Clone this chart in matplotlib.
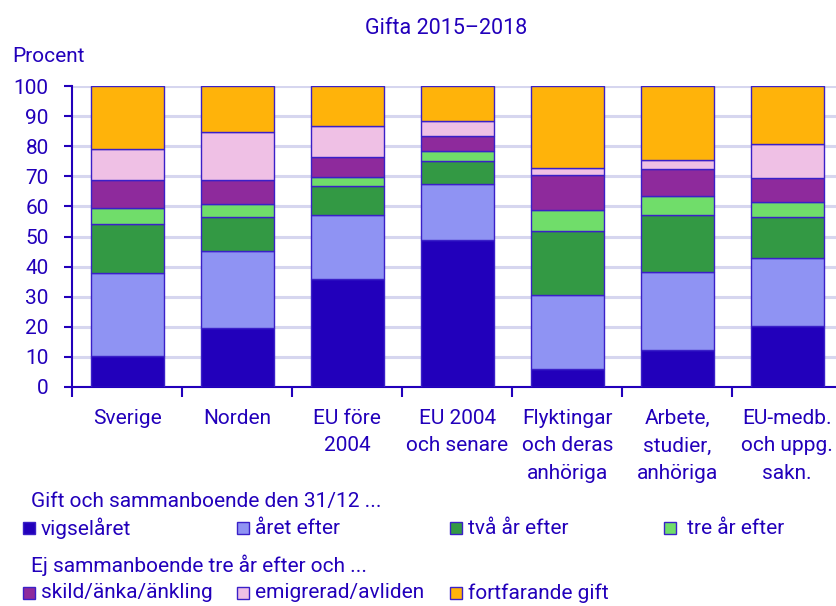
import matplotlib
matplotlib.use("Agg")
import matplotlib.pyplot as plt
from matplotlib.patches import Rectangle
import numpy as np

# ==================== data ====================
categories = ["Sverige", "Norden", "EU före\n2004", "EU 2004\noch senare",
              "Flyktingar\noch deras\nanhöriga", "Arbete,\nstudier,\nanhöriga",
              "EU-medb.\noch uppg.\nsakn."]
vigselaret   = [10.2, 19.7, 35.8, 48.7,  5.9, 12.4, 20.2]
aret_efter   = [27.8, 25.6, 21.2, 18.9, 24.6, 25.8, 22.8]
tva_ar       = [16.3, 11.3,  9.8,  7.4, 21.2, 18.8, 13.4]
tre_ar       = [ 5.2,  4.2,  3.0,  3.4,  7.0,  6.4,  5.0]
skild        = [ 9.4,  8.0,  6.6,  4.9, 11.7,  8.9,  8.2]
emigrerad    = [10.2, 15.9, 10.2,  5.2,  2.3,  3.1, 11.1]
fortfarande  = [20.9, 15.3, 13.4, 11.5, 27.3, 24.6, 19.3]

series_labels = ["vigselåret", "året efter", "två år efter", " tre år efter",
                 "skild/änka/änkling", "emigrerad/avliden", "fortfarande gift"]
colors = ["#2200bb", "#8f93f3", "#339944", "#70dd6a",
          "#8e2a9c", "#efc0e5", "#ffb30a"]
yticks = list(range(0, 101, 10))

# ==================== style ====================
TXT = "#2200bb"
EDGE = "#3a20c8"
GRID = "#d6d6ef"
plt.rcParams["font.family"] = ["Roboto", "DejaVu Sans"]
plt.rcParams["font.size"] = 15

W, H = 837, 606
fig = plt.figure(figsize=(W / 100, H / 100), dpi=100)

def fx(px): return px / W
def fy(py): return 1 - py / H

ax_left, ax_right, ax_top, ax_bot = 72.3, 837, 86, 387
ax = fig.add_axes([fx(ax_left), fy(ax_bot), fx(ax_right - ax_left), (ax_bot - ax_top) / H])

x = np.arange(len(categories))
bottom = np.zeros(len(categories))
for vals, col in zip([vigselaret, aret_efter, tva_ar, tre_ar, skild, emigrerad, fortfarande], colors):
    ax.bar(x, vals, width=0.665, bottom=bottom, color=col, edgecolor=EDGE, linewidth=1.0, zorder=3)
    bottom += np.array(vals)

ax.set_ylim(0, 100)
ax.set_xlim(-0.5, -0.5 + (ax_right - ax_left) / 110)
ax.set_yticks(yticks)
ax.yaxis.grid(True, color=GRID, linewidth=2.2, zorder=0)
ax.set_axisbelow(True)

ax.set_xticks(x)
ax.set_xticklabels(categories, linespacing=1.55, color=TXT)
ax.set_xticks(np.arange(len(categories)) - 0.5, minor=True)
ax.tick_params(axis="x", which="major", length=0, pad=16)
ax.tick_params(axis="x", which="minor", length=7, width=1.5, color=TXT, direction="out")
ax.tick_params(axis="y", length=6, width=1.5, color=TXT, labelcolor=TXT, pad=11)

for s in ["top", "right"]:
    ax.spines[s].set_visible(False)
for s in ["left", "bottom"]:
    ax.spines[s].set_color(TXT)
    ax.spines[s].set_linewidth(1.5)

fig.text(fx(446), fy(28), "Gifta 2015\u20132018", ha="center", va="center", color=TXT, fontsize=15.5)
fig.text(fx(12), fy(56), "Procent", ha="left", va="center", color=TXT)

# ==================== legend ====================
fig.text(fx(30.7), fy(501), "Gift och sammanboende den 31/12 ...", ha="left", va="center", color=TXT)
fig.text(fx(30.7), fy(565), "Ej sammanboende tre år efter och ...", ha="left", va="center", color=TXT)

sq_x = [23, 237, 450, 664]
row_y = [528, 593]
sq = 12
for i, (lab, col) in enumerate(zip(series_labels, colors)):
    r, c = divmod(i, 4)
    xx, yy = sq_x[c], row_y[r]
    fig.add_artist(Rectangle((fx(xx), fy(yy + sq / 2)), sq / W, sq / H,
                             facecolor=col, edgecolor=EDGE, linewidth=1.0,
                             transform=fig.transFigure))
    fig.text(fx(xx + sq + 6), fy(yy), lab, ha="left", va="center", color=TXT)

fig.savefig("out.png", dpi=100)
